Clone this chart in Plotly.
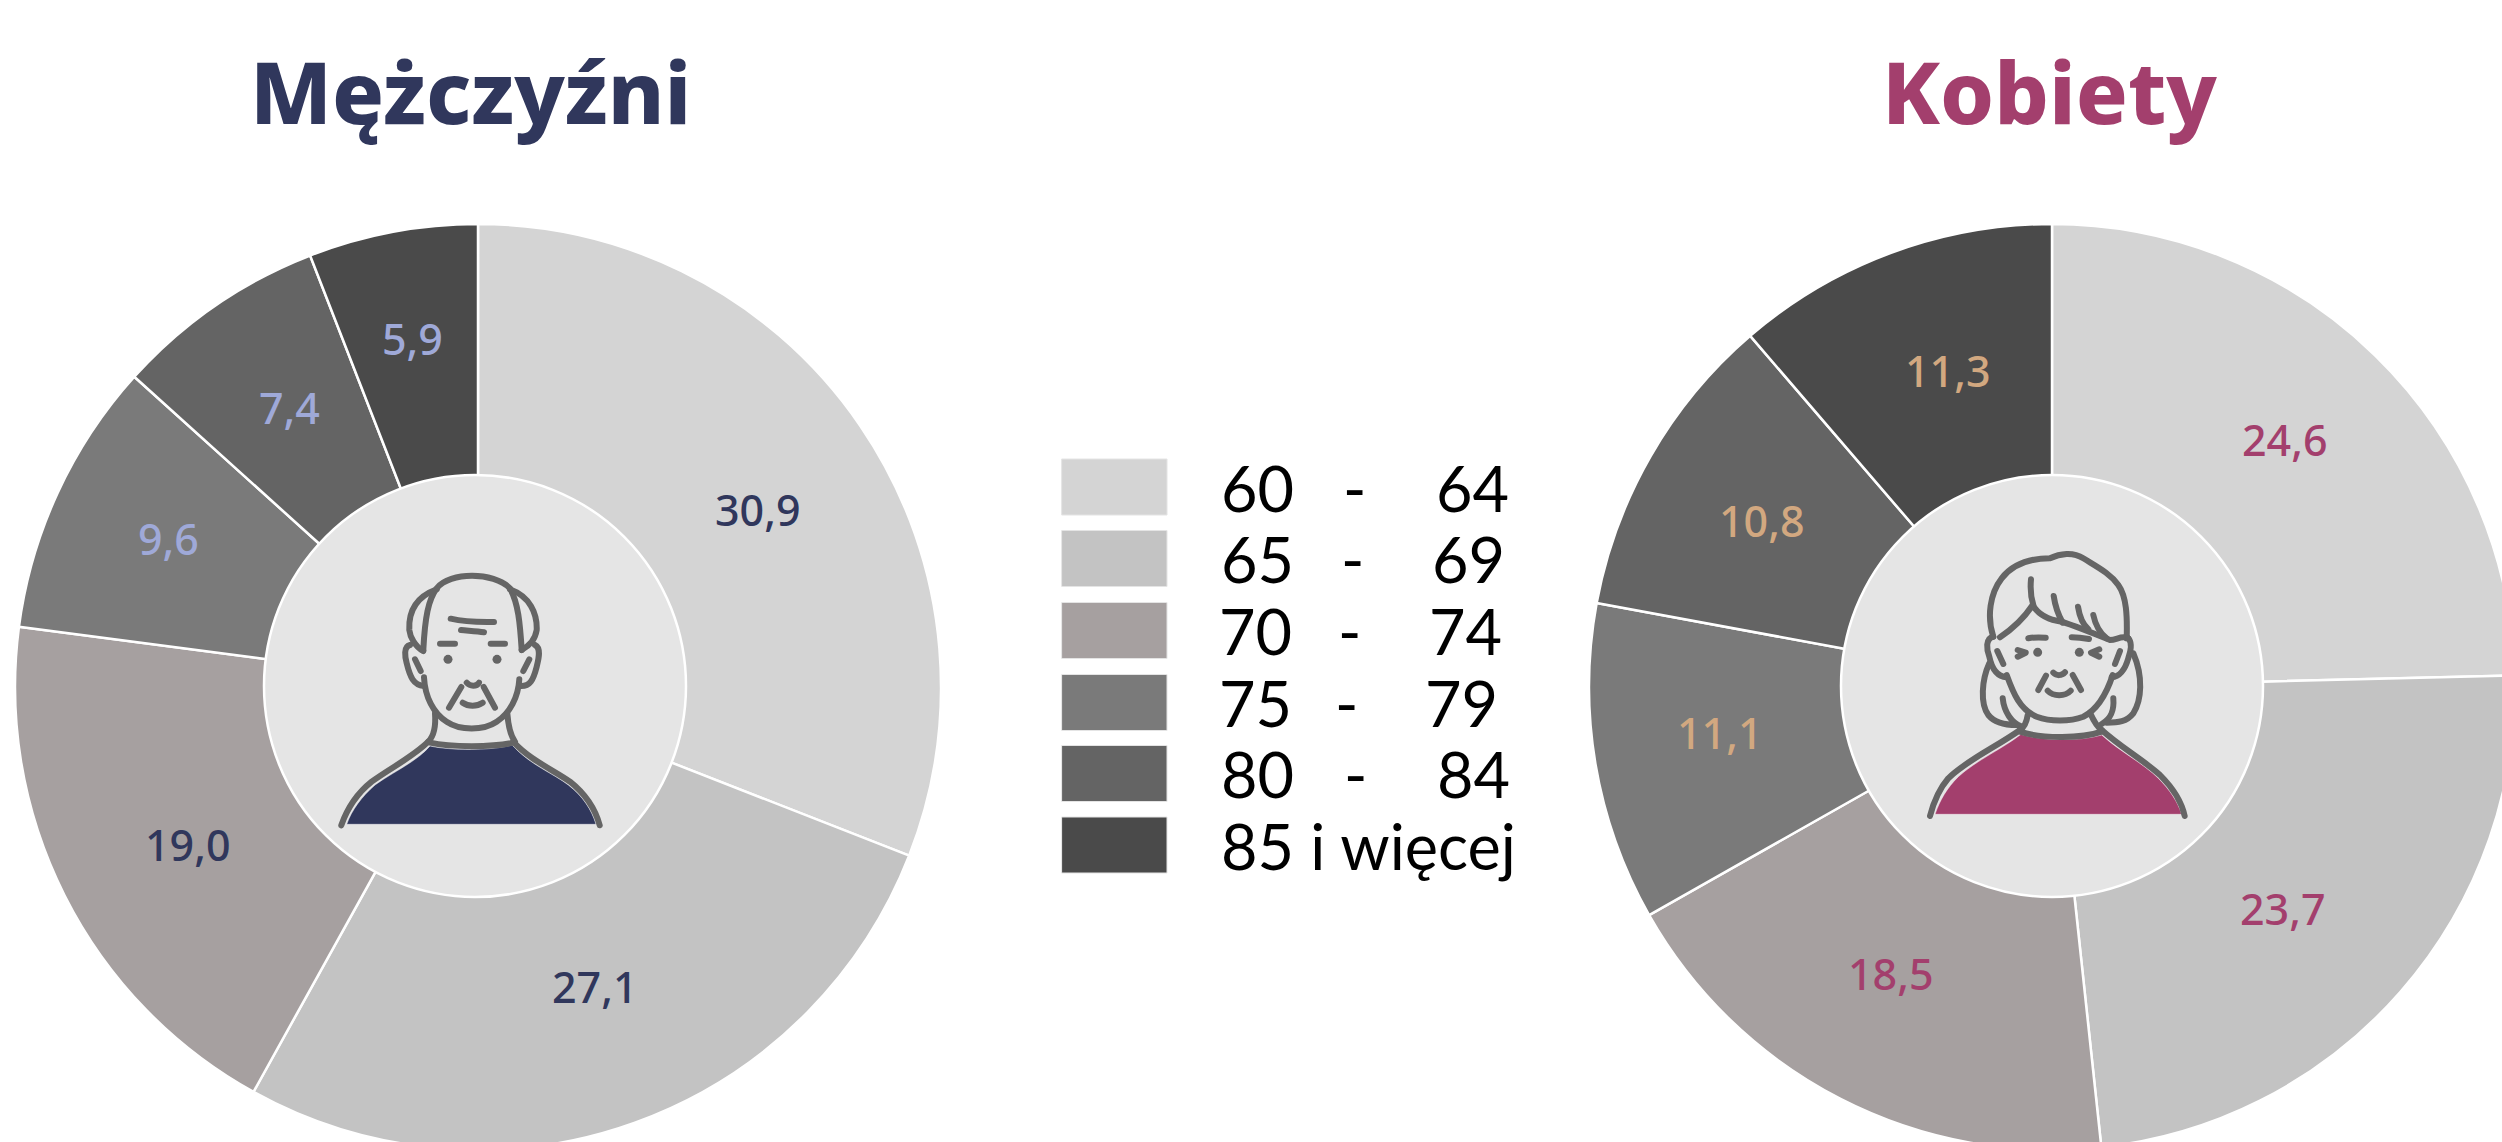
import re
import plotly.graph_objects as go

# ---- data ----
age_from = ["60", "65", "70", "75", "80"]
age_to = ["64", "69", "74", "79", "84"]
age_last = "85 i więcej"
categories = ["60 - 64", "65 - 69", "70 - 74", "75 - 79", "80 - 84", "85 i więcej"]
men_values = [30.9, 27.1, 19.0, 9.6, 7.4, 5.9]
women_values = [24.6, 23.7, 18.5, 11.1, 10.8, 11.3]
men_title = "Mężczyźni"
women_title = "Kobiety"

# ---- styles ----
slice_colors = ["#d4d4d4", "#c3c3c3", "#a6a0a0", "#7a7a7a", "#646464", "#4a4a4a"]
NAVY, PINK = "#30375c", "#a33f6d"
men_text = [NAVY] * 3 + ["#9fa9d8"] * 3
women_text = [PINK] * 3 + ["#d2a880"] * 3
FONT = "Noto Sans"
LEG_FONT = "Lato"
W, H = 2520, 1160
R = 463
DISC_R = 211
STROKE = "#656565"
MEN_C = (478, 687)
WOMEN_C = (2052, 687)
MEN_DISC = (475, 686)
WOMEN_DISC = (2052, 686)
men_label_xy = [(758, 509), (595, 986), (188, 844), (168, 538), (289, 407), (412, 338)]
women_label_xy = [(2285, 439), (2283, 908), (1891, 973), (1720, 732), (1762, 520), (1948, 370)]


def dom(c):
    return dict(x=[(c[0] - R) / W, (c[0] + R) / W],
                y=[(H - c[1] - R) / H, (H - c[1] + R) / H])


def pie(vals, c, name):
    return go.Pie(
        labels=categories, values=vals, name=name, sort=False, direction="clockwise",
        rotation=0, hole=(DISC_R - 8) / R, domain=dom(c), showlegend=False, hoverinfo="skip",
        marker=dict(colors=slice_colors, line=dict(color="white", width=2.5)),
        textinfo="none",
    )


def place(path, ox, oy):
    nums = re.split(r"([MCLZ])", path)
    out = []
    for tok in nums:
        if tok in ("M", "C", "L", "Z"):
            out.append(tok)
        elif tok.strip():
            vals = [float(v) for v in re.findall(r"-?\d+\.?\d*", tok)]
            pts = [f"{ox + vals[i] / 3:.1f},{oy + vals[i + 1] / 3:.1f}" for i in range(0, len(vals), 2)]
            out.append(" ".join(pts))
    return " ".join(out)


def line_shape(path, ox, oy, width=6):
    return dict(type="path", xref="x", yref="y", path=place(path, ox, oy), layer="above",
                line=dict(color=STROKE, width=width), fillcolor="rgba(0,0,0,0)")


def fill_shape(path, ox, oy, color):
    return dict(type="path", xref="x", yref="y", path=place(path, ox, oy), layer="above",
                line=dict(color="rgba(255,255,255,0.45)", width=1), fillcolor=color)


def dot(cx, cy, ox, oy):
    x, y = ox + cx / 3, oy + cy / 3
    return dict(type="circle", xref="x", yref="y", x0=x - 4.5, x1=x + 4.5, y0=y - 4.5, y1=y + 4.5,
                layer="above", fillcolor=STROKE, line=dict(width=0))


def disc(c):
    return dict(type="circle", xref="x", yref="y", x0=c[0] - DISC_R, x1=c[0] + DISC_R,
                y0=c[1] - DISC_R, y1=c[1] + DISC_R, layer="above",
                fillcolor="#e5e5e5", line=dict(color="white", width=2.5))


MAN_LINES = [
    "M370,330 C375,230 385,180 410,145 C450,95 580,95 630,145 C655,190 660,250 665,330",
    "M410,148 C350,170 325,210 328,270 C330,290 345,320 370,333",
    "M630,148 C690,170 712,220 710,270 C705,300 690,315 665,330",
    "M330,315 C310,320 315,350 320,370 C330,410 340,435 372,438",
    "M705,315 C725,325 715,360 710,380 C700,420 690,440 660,438",
    "M345,358 L362,393", "M688,358 L670,393",
    "M372,412 C375,470 400,520 440,545 C480,572 550,572 590,545 C630,520 655,470 658,418",
    "M452,236 C490,245 540,247 582,246", "M483,270 C500,272 530,273 552,277",
    "M420,311 L465,311", "M572,311 L615,311",
    "M500,428 C510,440 530,440 537,428", "M484,441 L447,503", "M551,441 L585,503",
    "M488,488 C505,500 530,500 548,488",
    "M405,520 C408,560 400,590 385,605", "M622,520 C625,560 630,585 645,605",
    "M390,608 C450,622 580,622 640,608",
    "M385,605 C340,650 270,685 215,725 C165,765 140,810 124,856",
    "M640,605 C690,660 760,690 810,725 C860,765 885,805 899,856",
]
MAN_SHIRT = ("M390,618 C450,632 580,632 636,615 C690,675 760,700 805,735 C850,770 875,810 888,853 "
             "L140,853 C155,810 185,770 225,735 C280,695 350,665 390,618 Z")
WOMAN_LINES = [
    "M340,320 C320,260 330,190 365,145 C400,100 450,85 510,85 C540,70 580,65 610,85 C650,110 690,130 715,165 C740,200 742,260 740,325",
    "M360,322 C400,295 435,260 458,225 C475,255 510,270 545,275 C590,290 640,310 690,330 C710,330 725,315 745,325",
    "M453,148 C450,180 455,210 460,225", "M521,198 C525,225 535,255 548,278",
    "M594,230 C598,255 605,280 625,298", "M640,255 C645,280 655,305 680,325",
    "M340,320 C315,325 320,360 328,380 C335,415 350,440 380,442",
    "M745,325 C760,340 750,370 745,385 C735,420 720,440 695,442",
    "M352,363 L370,402", "M720,363 L705,402",
    "M380,435 C400,490 420,540 470,560 C510,575 570,575 610,560 C650,540 680,490 698,435",
    "M445,325 C460,322 480,322 497,323", "M575,322 C590,322 610,324 627,327",
    "M413,360 L437,368 L413,380", "M658,358 L633,368 L658,380",
    "M520,428 C530,438 545,438 555,427", "M498,437 L475,480", "M578,435 L603,480",
    "M503,482 C520,500 555,500 572,482",
    "M328,400 C305,450 300,520 325,555 C345,580 375,585 410,585",
    "M368,505 C372,545 395,580 425,590", "M443,555 C440,575 435,590 420,600",
    "M760,370 C790,440 785,510 760,550 C740,575 715,578 680,578",
    "M700,505 C703,540 695,565 665,582", "M630,548 C640,570 650,590 665,600",
    "M420,605 C480,625 600,628 665,605",
    "M420,600 C350,650 260,690 205,745 C175,780 160,820 150,858",
    "M665,600 C720,650 790,690 840,735 C880,775 905,815 914,858",
]
WOMAN_SHIRT = ("M423,613 C480,632 600,635 665,615 C720,665 790,700 835,745 C870,780 893,815 905,853 "
               "L165,853 C180,810 200,775 235,740 C290,690 370,655 423,613 Z")

shapes = [disc(MEN_DISC), disc(WOMEN_DISC)]
shapes.append(fill_shape(MAN_SHIRT, 300, 540, NAVY))
shapes.append(fill_shape(WOMAN_SHIRT, 1880, 530, PINK))
shapes += [line_shape(p, 300, 540) for p in MAN_LINES]
shapes += [line_shape(p, 1880, 530) for p in WOMAN_LINES]
shapes += [dot(444, 358, 300, 540), dot(591, 358, 300, 540), dot(473, 367, 1880, 530), dot(598, 367, 1880, 530)]

# legend swatches
SW_X0, SW_X1 = 1062, 1167
SW_Y = [459, 530.5, 602.5, 674.5, 745.5, 817]
for y, col in zip(SW_Y, slice_colors):
    shapes.append(dict(type="rect", xref="x", yref="y", x0=SW_X0, x1=SW_X1, y0=y, y1=y + 56,
                       layer="above", fillcolor=col, line=dict(color="#e4e4e4", width=1)))


def txt(x, y, s, size, color="black", anchor="left", weight=400, family=FONT):
    return dict(x=x, y=y, xref="x", yref="y", text=s, showarrow=False,
                xanchor=anchor, yanchor="middle",
                font=dict(family=family, size=size, color=color, weight=weight))


def value_labels(vals, positions, colors):
    return [txt(p[0], p[1], f"{v:.1f}".replace(".", ","), 43, col, "center", 500)
            for v, p, col in zip(vals, positions, colors)]


FROM_X = [1219, 1219, 1217, 1217, 1219]
DASH_X = [1354, 1352, 1349, 1346, 1355]
TO_X = [1434, 1430, 1427, 1423, 1435]
LEG_SIZE = 63
annotations = [txt(470, 90, men_title, 86, NAVY, "center", 800),
               txt(2049, 90, women_title, 86, PINK, "center", 800)]
annotations += value_labels(men_values, men_label_xy, men_text)
annotations += value_labels(women_values, women_label_xy, women_text)
for i in range(5):
    cy = SW_Y[i] + 28
    annotations.append(txt(FROM_X[i], cy, age_from[i], LEG_SIZE, family=LEG_FONT))
    annotations.append(txt(DASH_X[i], cy, "-", LEG_SIZE, anchor="center", family=LEG_FONT))
    annotations.append(txt(TO_X[i], cy, age_to[i], LEG_SIZE, family=LEG_FONT))
annotations.append(txt(1219, SW_Y[5] + 28, age_last, LEG_SIZE, family=LEG_FONT))

fig = go.Figure([
    pie(men_values, MEN_C, men_title),
    pie(women_values, WOMEN_C, women_title),
    go.Scatter(x=[0, W], y=[0, H], mode="markers", marker=dict(opacity=0), showlegend=False, hoverinfo="skip"),
])
fig.update_layout(
    width=W, height=H, margin=dict(l=0, r=0, t=0, b=0),
    paper_bgcolor="white", plot_bgcolor="rgba(0,0,0,0)",
    xaxis=dict(range=[0, W], visible=False, fixedrange=True),
    yaxis=dict(range=[H, 0], visible=False, fixedrange=True),
    shapes=shapes, annotations=annotations,
)
fig.write_html("out.html", config=dict(displayModeBar=False),
               post_script=("document.body.style.margin='0';document.documentElement.style.overflow='hidden';"
                            "document.body.style.overflow='hidden';"
                            "document.querySelectorAll('.shapelayer path').forEach(function(p){"
                            "p.style.strokeLinecap='round';p.style.strokeLinejoin='round';});"))
